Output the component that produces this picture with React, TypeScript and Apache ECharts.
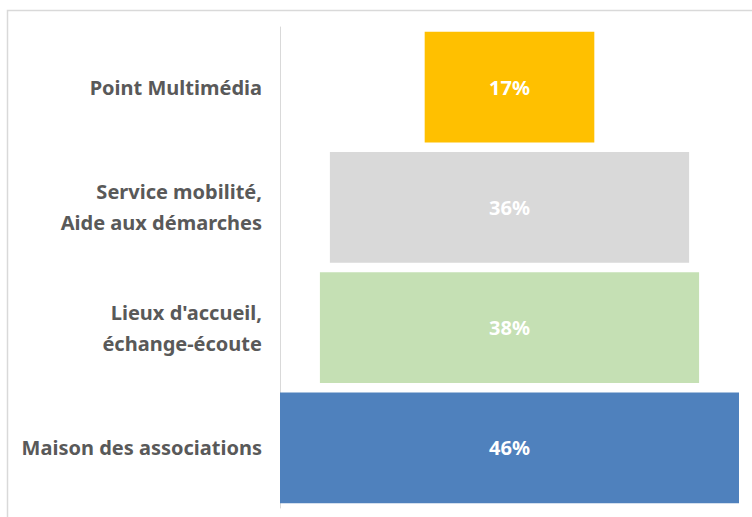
import React, { useEffect, useRef } from "react";
import * as echarts from "echarts";

const categories = [
  "Point Multimédia",
  "Service mobilité,\nAide aux démarches",
  "Lieux d'accueil,\néchange-écoute",
  "Maison des associations",
];
const values = [17, 36, 38, 46];
const colors = ["#FFC000", "#D9D9D9", "#C5E0B4", "#4F81BD"];
const AXIS_MAX = 46;

export default function App() {
  const ref = useRef<HTMLDivElement>(null);
  useEffect(() => {
    if (!ref.current) return;
    const chart = echarts.init(ref.current, undefined, { renderer: "svg" });
    const offsets = values.map((v) => (AXIS_MAX - v) / 2);
    chart.setOption({
      animation: false,
      backgroundColor: "#ffffff",
      graphic: [
        {
          type: "rect",
          shape: { x: 7.5, y: 10.5, width: 800, height: 600 },
          style: { fill: "none", stroke: "#d9d9d9", lineWidth: 1.5 },
          silent: true,
        },
      ],
      grid: { left: 280, top: 27, width: 459, height: 481, containLabel: false },
      xAxis: {
        type: "value",
        min: 0,
        max: AXIS_MAX,
        show: false,
      },
      yAxis: {
        type: "category",
        inverse: true,
        data: categories,
        axisLine: { show: true, lineStyle: { color: "#d9d9d9", width: 1 } },
        axisTick: { show: false },
        axisLabel: {
          margin: 18,
          color: "#595959",
          fontFamily: "Noto Sans",
          fontWeight: "bold",
          fontSize: 20,
          lineHeight: 31,
          align: "right",
        },
      },
      series: [
        {
          type: "bar",
          stack: "s",
          data: offsets,
          itemStyle: { color: "transparent" },
          barCategoryGap: "8%",
          silent: true,
        },
        {
          type: "bar",
          stack: "s",
          barCategoryGap: "8%",
          data: values.map((v, i) => ({ value: v, itemStyle: { color: colors[i] } })),
          label: {
            show: true,
            position: "inside",
            formatter: "{c}%",
            color: "#ffffff",
            fontFamily: "Noto Sans",
            fontWeight: "bold",
            fontSize: 20,
          },
        },
      ],
    });
    return () => chart.dispose();
  }, []);
  return (
    <div
      ref={ref}
      style={{ position: "fixed", left: 0, top: 0, width: 752, height: 517 }}
    />
  );
}
